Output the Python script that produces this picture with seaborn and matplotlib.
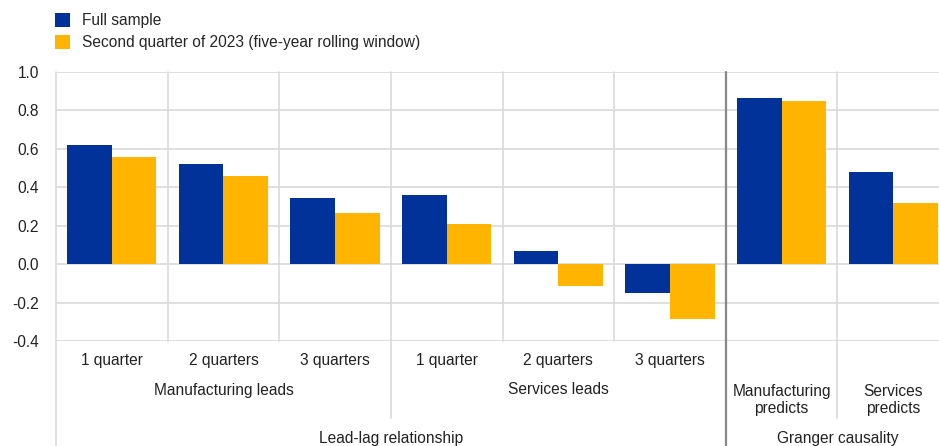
import matplotlib
matplotlib.use("Agg")
import matplotlib.pyplot as plt
import matplotlib.transforms as mtransforms
from matplotlib.patches import Patch
import pandas as pd
import seaborn as sns

categories = ["1 quarter", "2 quarters", "3 quarters",
              "1 quarter", "2 quarters", "3 quarters",
              "Manufacturing\npredicts", "Services\npredicts"]
groups = ["Manufacturing leads", "Services leads"]
sections = ["Lead-lag relationship", "Granger causality"]
series = ["Full sample", "Second quarter of 2023 (five-year rolling window)"]
full_sample = [0.62, 0.52, 0.345, 0.36, 0.07, -0.15, 0.865, 0.477]
q2_2023 = [0.56, 0.46, 0.265, 0.21, -0.115, -0.285, 0.847, 0.318]
yticks = [-0.4, -0.2, 0.0, 0.2, 0.4, 0.6, 0.8, 1.0]

colors = ["#003299", "#FFB400"]
grid_c = "#d9d9d9"

n = len(categories)
df = pd.DataFrame({
    "pos": list(range(n)) * 2,
    "value": full_sample + q2_2023,
    "series": [series[0]] * n + [series[1]] * n,
})

sns.set_theme(style="white")
plt.rcParams["font.family"] = ["Liberation Sans", "DejaVu Sans"]

W, H = 939, 446
fig = plt.figure(figsize=(W / 100, H / 100), dpi=100)
left, right, top, bottom = 56, 949, 72, 341
ax = fig.add_axes([left / W, 1 - bottom / H, (right - left) / W, (bottom - top) / H])

sns.barplot(data=df, x="pos", y="value", hue="series", hue_order=series,
            palette=colors, saturation=1, width=0.8, linewidth=0, ax=ax, legend=False,
            order=list(range(n)), zorder=3)

tc = "#222222"
fs = 11.2

ax.set_ylim(-0.4, 1.0)
ax.set_xlim(-0.5, n - 0.5)
ax.set_yticks(yticks)
ax.set_yticklabels([f"{v:.1f}" for v in yticks], fontsize=fs, color=tc)
ax.yaxis.grid(True, color=grid_c, linewidth=1.2, zorder=0)
ax.tick_params(axis="y", length=0, pad=12)
ax.set_xticks([])
ax.set_xlabel("")
ax.set_ylabel("")
for s in ax.spines.values():
    s.set_visible(False)

tr = mtransforms.blended_transform_factory(ax.transData, ax.transAxes)
ph = bottom - top  # axes height in px
def ay(py):
    return (bottom - py) / ph

# vertical separators
ax.plot([-0.5, -0.5], [1, ay(446)], transform=tr, color=grid_c, lw=1.2, clip_on=False, zorder=1)
for xb in [0.5, 1.5, 3.5, 4.5]:
    ax.plot([xb, xb], [1, 0], transform=tr, color=grid_c, lw=1.2, clip_on=False, zorder=1)
for xb in [2.5, 6.5]:
    ax.plot([xb, xb], [1, ay(418)], transform=tr, color=grid_c, lw=1.2, clip_on=False, zorder=1)
ax.plot([5.5, 5.5], [1, ay(446)], transform=tr, color="#888888", lw=1.6, clip_on=False, zorder=4)

for i, lab in enumerate(categories[:6]):
    ax.text(i, ay(360), lab, transform=tr, ha="center", va="center", fontsize=fs, color=tc)
for i, lab in zip([6, 7], categories[6:]):
    ax.text(i, ay(400), lab, transform=tr, ha="center", va="center", fontsize=fs,
            color=tc, linespacing=1.2)
ax.text(1, ay(390), groups[0], transform=tr, ha="center", va="center", fontsize=fs, color=tc)
ax.text(4, ay(390), groups[1], transform=tr, ha="center", va="center", fontsize=fs, color=tc)
ax.text(2.5, ay(438), sections[0], transform=tr, ha="center", va="center", fontsize=fs, color=tc)
ax.text(6.5, ay(438), sections[1], transform=tr, ha="center", va="center", fontsize=fs, color=tc)

handles = [Patch(facecolor=c, edgecolor="none") for c in colors]
fig.legend(handles, series, loc="upper left", bbox_to_anchor=(55 / W, 1 - 13 / H),
           frameon=False, fontsize=fs, handlelength=0.95, handleheight=1.0,
           handletextpad=0.8, labelspacing=0.42, borderaxespad=0, borderpad=0)

fig.savefig("out.png", dpi=100)
